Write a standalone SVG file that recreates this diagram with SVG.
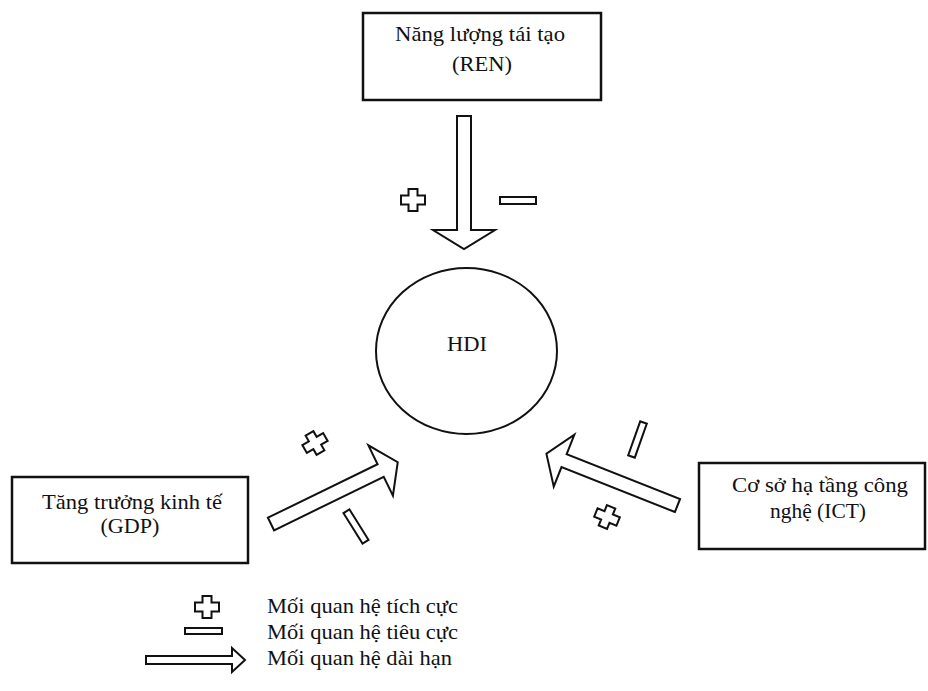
<svg xmlns="http://www.w3.org/2000/svg" width="928" height="691" viewBox="0 0 928 691">
<style>
  .box { fill: #fff; stroke: #111; stroke-width: 2.5; }
  .shape { fill: #fff; stroke: #111; stroke-width: 2; stroke-linejoin: miter; }
  text { font-family: "Liberation Serif", "DejaVu Serif", serif; font-size: 22px; fill: #111; }
  .t { text-anchor: middle; }
  .tl { text-anchor: start; }
</style>
<defs>
  <path id="plus" d="M-4.5,-11 H4.5 V-4.5 H12 V4.5 H4.5 V11 H-4.5 V4.5 H-12 V-4.5 H-4.5 Z"/>
  <rect id="minus" x="-18" y="-3.5" width="36" height="7"/>
  <polygon id="arrow" points="0,-7 122,-7 122,-28 141,0 122,28 122,7 0,7"/>
</defs>
<rect width="928" height="691" fill="#fff"/>

<g id="REN">
  <rect class="box" x="363" y="13" width="238" height="87"/>
  <text class="t" x="480" y="41" textLength="170" lengthAdjust="spacingAndGlyphs">Năng lượng tái tạo</text>
  <text class="t" x="482" y="71" textLength="60" lengthAdjust="spacingAndGlyphs">(REN)</text>
</g>

<g id="HDI">
  <ellipse class="shape" cx="466.5" cy="351" rx="90.5" ry="83"/>
  <text class="t" x="467" y="351" textLength="40" lengthAdjust="spacingAndGlyphs">HDI</text>
</g>

<g id="GDP">
  <rect class="box" x="12" y="477" width="236" height="86"/>
  <text class="t" x="132" y="509" textLength="180" lengthAdjust="spacingAndGlyphs">Tăng trưởng kinh tế</text>
  <text class="t" x="130" y="533" textLength="59" lengthAdjust="spacingAndGlyphs">(GDP)</text>
</g>

<g id="ICT">
  <rect class="box" x="699" y="463" width="226" height="86"/>
  <text class="t" x="820" y="492" textLength="176" lengthAdjust="spacingAndGlyphs">Cơ sở hạ tầng công</text>
  <text class="t" x="818" y="518" textLength="96" lengthAdjust="spacingAndGlyphs">nghệ (ICT)</text>
</g>

<g id="connectors">
  <polygon class="shape" points="457,116 471,116 471,230 495,230 464,249 433,230 457,230"/>
  <use href="#arrow" class="shape" transform="translate(271,524) rotate(-26)"/>
  <use href="#arrow" class="shape" transform="translate(677.5,505.5) rotate(201.6)"/>
</g>

<g id="signs">
  <use href="#plus" class="shape" transform="translate(413,200)"/>
  <use href="#minus" class="shape" transform="translate(518,200.5)"/>
  <use href="#plus" class="shape" transform="translate(315,443) rotate(-30)"/>
  <use href="#minus" class="shape" transform="translate(356,526.5) rotate(58)"/>
  <use href="#minus" class="shape" transform="translate(637.5,439.5) rotate(109.5)"/>
  <use href="#plus" class="shape" transform="translate(607,517) rotate(22)"/>
</g>

<g id="legend">
  <use href="#plus" class="shape" transform="translate(207,607)"/>
  <rect class="shape" x="185" y="628" width="37" height="6"/>
  <polygon class="shape" points="146,656 232,656 232,648 245,660 232,672 232,664 146,664"/>
  <text class="tl" x="267" y="613" textLength="191" lengthAdjust="spacingAndGlyphs">Mối quan hệ tích cực</text>
  <text class="tl" x="267" y="639" textLength="191" lengthAdjust="spacingAndGlyphs">Mối quan hệ tiêu cực</text>
  <text class="tl" x="267" y="665" textLength="185" lengthAdjust="spacingAndGlyphs">Mối quan hệ dài hạn</text>
</g>
</svg>
